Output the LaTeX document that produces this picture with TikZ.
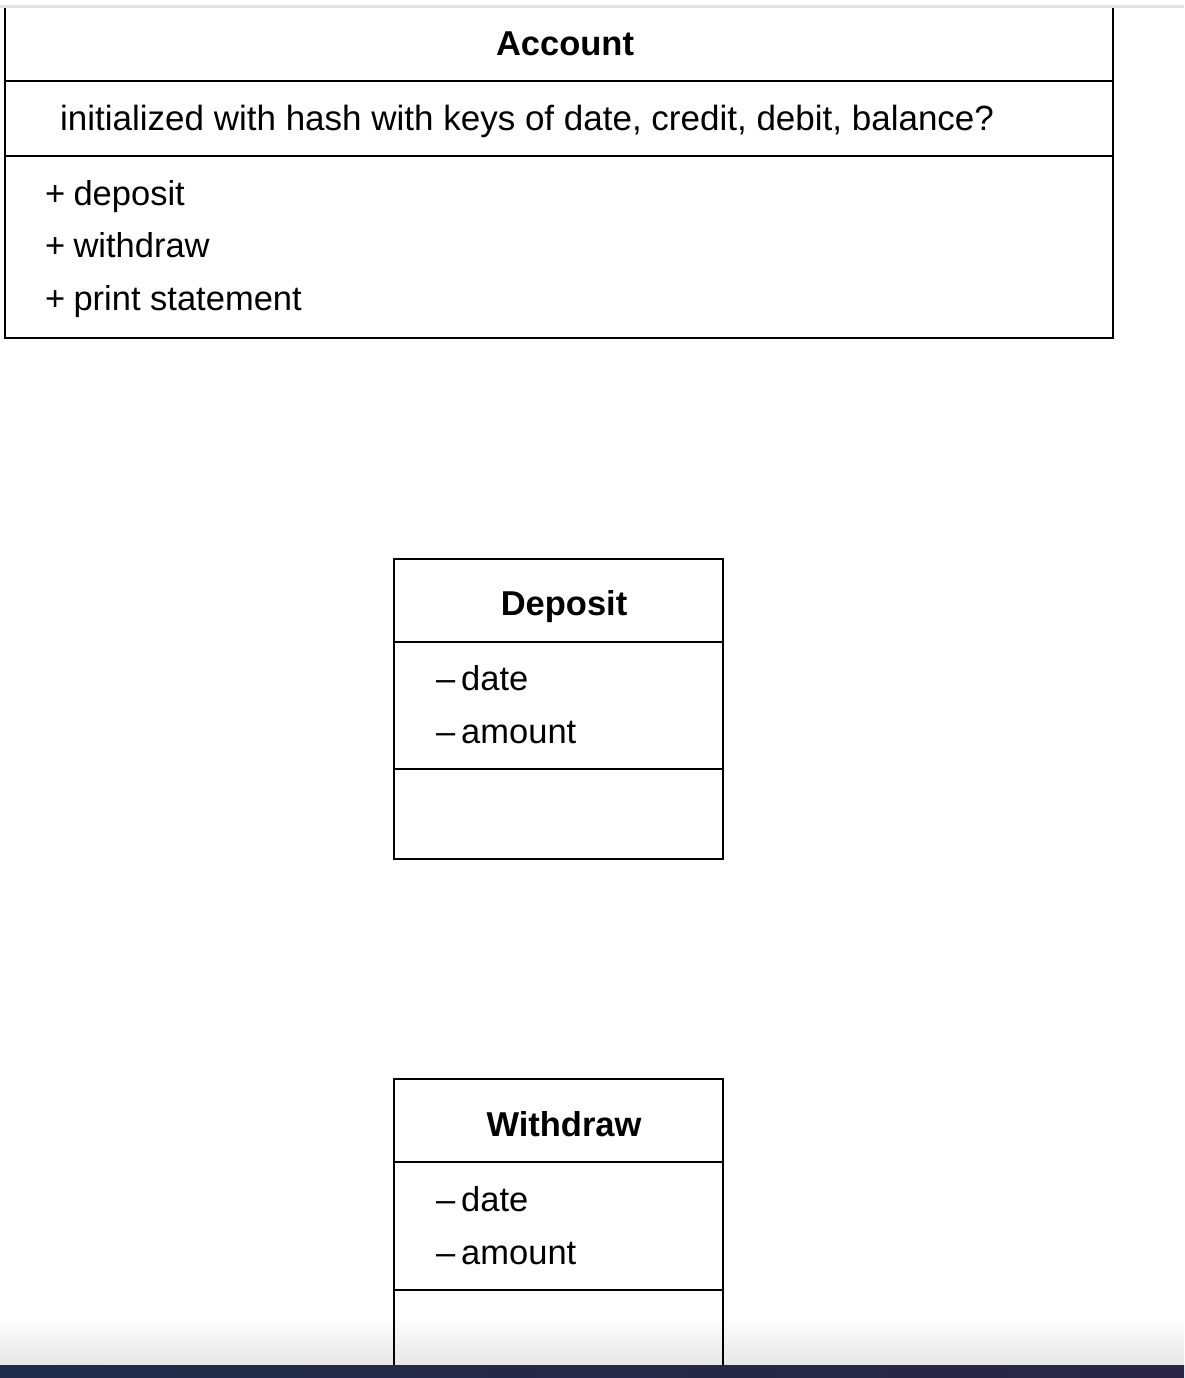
\documentclass[tikz,border=0pt]{standalone}
\usepackage{fontspec}
\setmainfont{Liberation Sans}
\definecolor{barleft}{HTML}{202B4B}
\definecolor{barright}{HTML}{2A2545}
\definecolor{topline}{HTML}{E2E2E4}
\definecolor{fade}{HTML}{E6E6E6}
\begin{document}
\begin{tikzpicture}[x=1pt,y=-1pt,
  box/.style={draw=black,line width=2pt},
  txt/.style={font=\fontsize{34.5}{40}\selectfont,inner sep=0pt,anchor=base west},
  ttl/.style={font=\fontsize{34.5}{40}\selectfont\bfseries,inner sep=0pt}]
\useasboundingbox (0,0) rectangle (1184,1378);
\fill[white] (0,0) rectangle (1184,1378);
% bottom fade
\shade[top color=white,bottom color=fade] (0,1315) rectangle (1184,1365);
% top line
\draw[topline,line width=2.5pt] (0,6.5) -- (1184,6.5);
% Account
\draw[box] (4.5,8) -- (4.5,338) -- (1113.3,338) -- (1113.3,8);
\draw[box] (4.5,81) -- (1113.3,81);
\draw[box] (4.5,156) -- (1113.3,156);
\node[ttl] (acc) at (565,44) {Account};
\node[txt,font=\fontsize{35}{40}\selectfont] (accinit) at (60,131) {initialized with hash with keys of date, credit, debit, balance?};
\node[txt] (m1) at (45,205) {+\kern-0.04em\ deposit};
\node[txt] (m2) at (45,257) {+\kern-0.04em\ withdraw};
\node[txt] (m3) at (45,310) {+\kern-0.04em\ print statement};
% Deposit
\draw[box] (394,558.5) rectangle (723.3,859);
\draw[box] (394,641.5) -- (723.3,641.5);
\draw[box] (394,769.3) -- (723.3,769.3);
\node[ttl,anchor=base] (dep) at (564,615) {Deposit};
\node[txt] (d1) at (436,690.5) {–\kern0.17em date};
\node[txt] (d2) at (436,743) {–\kern0.17em amount};
% Withdraw
\draw[box] (394,1365) -- (394,1079) -- (723.3,1079) -- (723.3,1365);
\draw[box] (394,1162) -- (723.3,1162);
\draw[box] (394,1290) -- (723.3,1290);
\node[ttl] (wd) at (564,1124) {Withdraw};
\node[txt] (w1) at (436,1211) {–\kern0.17em date};
\node[txt] (w2) at (436,1264) {–\kern0.17em amount};
% bottom bar
\shade[left color=barleft,right color=barright] (0,1365) rectangle (1184,1378);
\end{tikzpicture}
\end{document}
